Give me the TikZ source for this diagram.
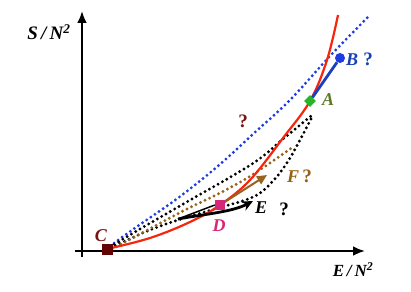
\documentclass[tikz,border=0pt]{standalone}
\usepackage{fontspec}
\setmainfont{Liberation Serif}
\usetikzlibrary{arrows.meta,shapes.geometric}
\definecolor{cred}{RGB}{246,38,14}
\definecolor{cblue}{RGB}{30,60,225}
\definecolor{cbluel}{RGB}{25,65,175}
\definecolor{cbrown}{RGB}{150,100,30}
\definecolor{cbrownl}{RGB}{150,95,20}
\definecolor{cgreen}{RGB}{40,180,40}
\definecolor{colive}{RGB}{95,120,40}
\definecolor{cdark}{RGB}{100,5,5}
\definecolor{cdarkl}{RGB}{120,20,20}
\definecolor{cmag}{RGB}{215,40,120}
\begin{document}
\begin{tikzpicture}[x=1pt,y=-1pt,
  dotline/.style={line width=3.2pt,line cap=round,dash pattern=on 0pt off 5pt},
  lbl/.style={font=\fontsize{18}{18}\selectfont\bfseries\itshape,inner sep=0pt},
  qm/.style={font=\fontsize{19}{19}\selectfont\bfseries,inner sep=0pt},
  axis/.style={line width=2.5pt,-{Latex[length=12pt,width=10pt]}}]
\useasboundingbox (0,0) rectangle (411,291);
% axes
\coordinate (yb) at (82,257);
\coordinate (yt) at (82,11);
\coordinate (xl) at (75,251);
\coordinate (xr) at (365,251);
\draw[axis] (yb) -- (yt);
\draw[axis] (xl) -- (xr);
\node[font=\fontsize{19}{19}\selectfont\bfseries\itshape,inner sep=0pt] (ylab) at (49,32) {S\,/\,N\textsuperscript{2}};
\node[font=\fontsize{17}{17}\selectfont\bfseries\itshape,inner sep=0pt] (xlab) at (353,270) {E\,/\,N\textsuperscript{2}};
% dotted curves
\draw[dotline,cblue] plot[smooth,tension=0.6] coordinates {(110,246) (135,228) (178,198) (218,166) (252,135) (290,100) (330,56) (370,15)};
\draw[dotline,black] plot[smooth,tension=0.6] coordinates {(110,247) (140,229) (185,203) (252,164) (283,139) (311,116)};
\draw[dotline,black] plot[smooth,tension=0.6] coordinates {(111,248) (145,232) (178,220) (215,209) (253,197) (272,182) (290,158) (312,117)};
\draw[dotline,cbrown] plot[smooth,tension=0.6] coordinates {(112,249) (140,234) (185,210) (220,193) (252,175) (293,147)};
% red curve
\draw[cred,line width=2.2pt] plot[smooth,tension=0.6] coordinates {(107,249) (150,238) (190,222) (220,205) (250,180) (283,138) (310,101) (327,60) (338,15)};
% markers
\node[fill=cdark,minimum size=11pt,inner sep=0pt] (C) at (107,249) {};
\node[fill=cmag,minimum size=10pt,inner sep=0pt] (D) at (220,205) {};
\node[diamond,fill=cgreen,minimum size=12pt,inner sep=0pt] (A) at (310,101) {};
\node[circle,fill=cblue,minimum size=10pt,inner sep=0pt] (B) at (340,58) {};
% arrows
\coordinate (Es) at (178,219);
\coordinate (Et) at (253,201);
\coordinate (Ft) at (267,175);
\draw[line width=2.8pt,cbluel!70!cblue] (A) -- (B);
\draw[cbrown,line width=2pt,-{Triangle[length=10pt,width=9pt]}] (D.center) -- (Ft);
\draw[black,line width=1.5pt] (Es) -- (D.west);
\draw[black,line width=2.8pt,-{Stealth[length=11pt,width=10pt]}] (Es) .. controls (205,214) and (232,212) .. (Et);
\node[fill=cmag,minimum size=10pt,inner sep=0pt] at (D) {};
% labels
\node[lbl,cdarkl] (Cl) at (101,236) {C};
\node[lbl,cmag] (Dl) at (219,226) {D};
\node[lbl,colive] (Al) at (328,100) {A};
\node[lbl,cbluel] (Bl) at (352,60) {B};
\node[qm,cbluel] (Bq) at (368,59) {?};
\node[qm,cdarkl] (q1) at (243,121) {?};
\node[lbl,cbrownl] (Fl) at (293,177) {F};
\node[qm,cbrownl] (Fq) at (307,176) {?};
\node[lbl,black] (El) at (261,208) {E};
\node[qm,black] (Eq) at (284,209) {?};
\end{tikzpicture}
\end{document}
